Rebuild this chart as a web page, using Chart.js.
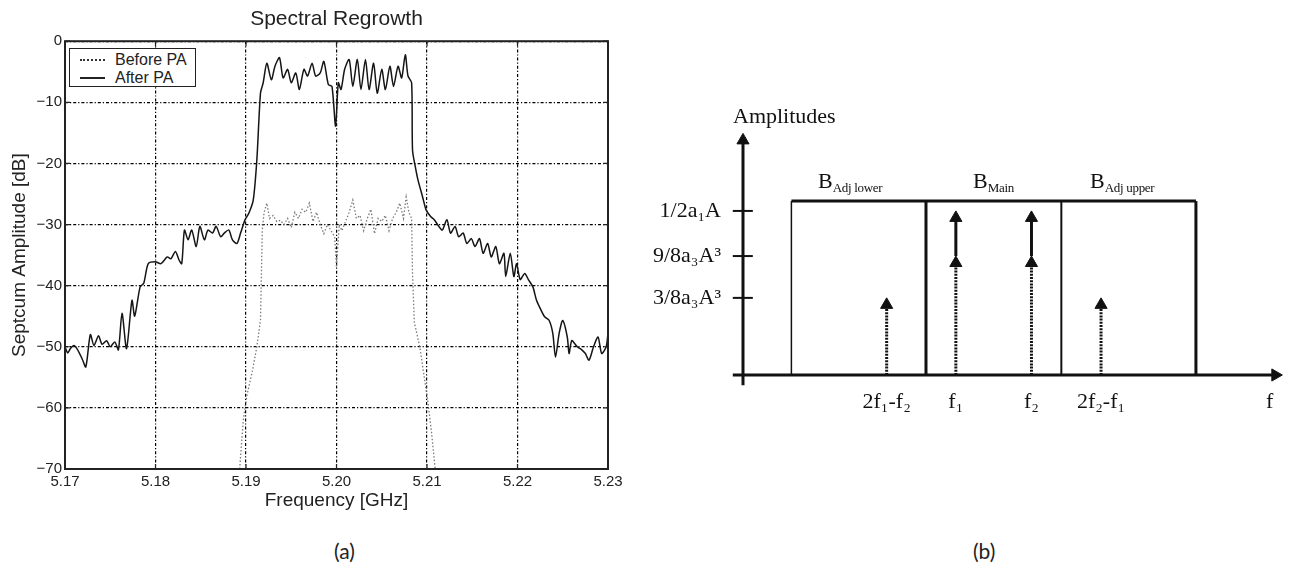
<!DOCTYPE html>
<html>
<head>
<meta charset="utf-8">
<script src="https://cdn.jsdelivr.net/npm/chart.js@4.4.0/dist/chart.umd.min.js"></script>
<style>
body { margin: 0; background: #fff; width: 1289px; height: 580px; position: relative; overflow: hidden; font-family: 'Liberation Sans', Arial, sans-serif; }
#wrap-a { position: absolute; left: 0; top: 0; width: 640px; height: 530px; }
#wrap-b { position: absolute; left: 640px; top: 80px; width: 649px; height: 360px; }
.legend { position: absolute; left: 69px; top: 48px; width: 127px; height: 39px; border: 1.5px solid #222; box-sizing: border-box; background: #fff; font-size: 16px; color: #222; }
.legend .row { position: absolute; left: 0; height: 19px; line-height: 19px; }
.legend .txt { position: absolute; left: 45px; white-space: nowrap; }
.legend .smp { position: absolute; left: 10px; width: 25px; top: 9px; }
.serif { position: absolute; font-family: 'Liberation Serif', 'Times New Roman', serif; font-size: 22px; color: #111; white-space: nowrap; line-height: 26px; }
.serif sub { font-size: 13px; vertical-align: -4px; letter-spacing: -0.3px; }
.cap { position: absolute; top: 538px; font-family: Lato, 'Open Sans', sans-serif; font-size: 21px; color: #222; }
</style>
</head>
<body>
<div id="wrap-a"><canvas id="spectrum"></canvas></div>
<div class="legend">
  <div class="row" style="top:1px"><span class="smp" style="border-top:2px dotted #333"></span><span class="txt">Before PA</span></div>
  <div class="row" style="top:19px"><span class="smp" style="border-top:2px solid #222"></span><span class="txt">After PA</span></div>
</div>
<div id="wrap-b"><canvas id="bands"></canvas></div>
<div class="serif" style="left:733px;top:103px">Amplitudes</div>
<div class="serif" style="left:818px;top:168px">B<sub>Adj lower</sub></div>
<div class="serif" style="left:973px;top:168px">B<sub>Main</sub></div>
<div class="serif" style="left:1090px;top:168px">B<sub>Adj upper</sub></div>
<div class="cap" style="left:334px">(a)</div>
<div class="cap" style="left:973px">(b)</div>
<script>
// ---------- (a) Spectral Regrowth ----------
const freqTicks = [5.17, 5.18, 5.19, 5.20, 5.21, 5.22, 5.23];

const afterFreq = [
  5.1700, 5.1703, 5.1706, 5.1710, 5.1714, 5.1719, 5.1723, 5.1728, 5.1732, 5.1737,
  5.1741, 5.1746, 5.1750, 5.1755, 5.1759, 5.1763, 5.1768, 5.1774, 5.1777, 5.1783,
  5.1787, 5.1792, 5.1800, 5.1806, 5.1813, 5.1817, 5.1822, 5.1826, 5.1829, 5.1832,
  5.1836, 5.1840, 5.1845, 5.1849, 5.1854, 5.1858, 5.1863, 5.1867, 5.1872, 5.1876,
  5.1881, 5.1885, 5.1890, 5.1894, 5.1899, 5.1903, 5.1908, 5.1912, 5.1916, 5.1919,
  5.1923, 5.1928, 5.1932, 5.1937, 5.1941, 5.1946, 5.1950, 5.1955, 5.1959, 5.1964,
  5.1968, 5.1973, 5.1977, 5.1982, 5.1986, 5.1991, 5.1995, 5.1999, 5.2002, 5.2005,
  5.2009, 5.2014, 5.2018, 5.2023, 5.2027, 5.2032, 5.2036, 5.2041, 5.2045, 5.2050,
  5.2054, 5.2059, 5.2063, 5.2068, 5.2072, 5.2076, 5.2079, 5.2083, 5.2084, 5.2087,
  5.2090, 5.2095, 5.2099, 5.2104, 5.2108, 5.2113, 5.2117, 5.2122, 5.2126, 5.2131,
  5.2135, 5.2140, 5.2144, 5.2149, 5.2153, 5.2158, 5.2162, 5.2167, 5.2171, 5.2176,
  5.2180, 5.2185, 5.2187, 5.2192, 5.2196, 5.2199, 5.2203, 5.2208, 5.2212, 5.2217,
  5.2221, 5.2226, 5.2230, 5.2235, 5.2239, 5.2242, 5.2246, 5.2250, 5.2255, 5.2257,
  5.2260, 5.2266, 5.2271, 5.2275, 5.2279, 5.2284, 5.2289, 5.2293, 5.2298, 5.2300
];
const afterDb = [
  -50.0, -51.0, -50.3, -49.8, -50.5, -52.0, -53.3, -48.0, -49.8, -48.2,
  -49.6, -49.0, -50.0, -49.2, -50.5, -44.5, -50.3, -42.4, -45.0, -40.2,
  -39.6, -36.4, -36.1, -36.4, -35.3, -35.6, -34.4, -35.8, -36.4, -30.9,
  -32.5, -30.9, -33.6, -30.3, -32.5, -30.9, -31.4, -30.3, -32.0, -31.4,
  -30.9, -32.5, -33.1, -31.4, -29.2, -28.2, -26.0, -19.4, -8.5, -6.8,
  -3.6, -6.3, -4.1, -2.7, -6.0, -4.6, -6.8, -5.2, -7.9, -4.6,
  -5.7, -3.6, -5.7, -5.2, -3.3, -7.1, -7.4, -13.9, -6.8, -7.9,
  -4.6, -3.0, -7.4, -3.0, -7.9, -3.0, -7.9, -3.6, -8.5, -4.6,
  -7.9, -4.1, -7.4, -4.1, -6.0, -2.2, -5.7, -6.8, -17.8, -20.5,
  -22.7, -25.4, -27.6, -28.7, -29.2, -30.3, -30.9, -29.2, -31.4, -30.3,
  -32.0, -31.4, -33.1, -32.3, -33.6, -32.3, -34.7, -33.1, -35.3, -33.6,
  -36.4, -34.7, -38.5, -34.7, -38.5, -36.4, -39.0, -38.0, -39.0, -40.2,
  -42.4, -44.0, -45.1, -45.7, -47.8, -51.7, -47.8, -45.7, -48.4, -51.1,
  -49.0, -50.0, -50.5, -51.1, -52.2, -50.0, -48.4, -51.1, -50.0, -47.8
];

const beforeFreq = [
  5.1893, 5.1897, 5.1901, 5.1907, 5.1912, 5.1916, 5.1918, 5.1920, 5.1923, 5.1926,
  5.1930, 5.1934, 5.1938, 5.1942, 5.1946, 5.1950, 5.1954, 5.1958, 5.1962, 5.1966,
  5.1970, 5.1974, 5.1978, 5.1982, 5.1986, 5.1990, 5.1994, 5.1998, 5.2000, 5.2003,
  5.2006, 5.2010, 5.2014, 5.2018, 5.2022, 5.2026, 5.2030, 5.2034, 5.2038, 5.2042,
  5.2046, 5.2050, 5.2054, 5.2058, 5.2062, 5.2066, 5.2070, 5.2074, 5.2077, 5.2080,
  5.2083, 5.2084, 5.2086, 5.2092, 5.2097, 5.2101, 5.2105, 5.2109
];
const beforeDb = [
  -70.0, -62.0, -58.0, -54.0, -50.0, -45.6, -31.0, -28.0, -26.5, -29.0,
  -28.5, -29.5, -29.3, -30.0, -29.0, -30.5, -28.0, -29.0, -27.5, -28.0,
  -26.5, -29.5, -28.0, -30.0, -31.5, -30.0, -31.0, -32.0, -37.0, -30.0,
  -31.0, -29.5, -28.0, -26.0, -29.0, -28.5, -31.0, -29.0, -27.5, -31.5,
  -29.0, -29.5, -28.5, -31.0, -29.0, -28.0, -26.5, -29.0, -25.5, -28.0,
  -29.0, -38.0, -46.0, -50.0, -55.0, -59.0, -64.0, -70.0
];

const toXY = (xs, ys) => xs.map((x, i) => ({ x: x, y: ys[i] }));

// box around the plot with small inward tick marks, matlab style
const frame = {
  id: 'frame',
  afterDatasetsDraw(chart) {
    const a = chart.chartArea, c = chart.ctx;
    const sx = chart.scales.x, sy = chart.scales.y;
    c.save();
    c.strokeStyle = '#222';
    c.lineWidth = 1.2;
    c.beginPath();
    sx.ticks.forEach(t => {
      const px = sx.getPixelForValue(t.value);
      c.moveTo(px, a.top); c.lineTo(px, a.top + 5);
      c.moveTo(px, a.bottom); c.lineTo(px, a.bottom - 5);
    });
    sy.ticks.forEach(t => {
      const py = sy.getPixelForValue(t.value);
      c.moveTo(a.left, py); c.lineTo(a.left + 5, py);
      c.moveTo(a.right, py); c.lineTo(a.right - 5, py);
    });
    c.stroke();
    c.lineWidth = 2;
    c.strokeRect(a.left, a.top, a.right - a.left, a.bottom - a.top);
    c.restore();
  }
};

const sans = "'Liberation Sans', Arial, sans-serif";

new Chart(document.getElementById('spectrum'), {
  type: 'line',
  data: {
    datasets: [
      {
        label: 'Before PA',
        data: toXY(beforeFreq, beforeDb),
        borderColor: '#7a7a7a',
        borderWidth: 1.3,
        borderDash: [1.5, 2],
        pointRadius: 0,
        tension: 0
      },
      {
        label: 'After PA',
        data: toXY(afterFreq, afterDb),
        borderColor: '#151515',
        borderWidth: 1.5,
        pointRadius: 0,
        tension: 0.25
      }
    ]
  },
  options: {
    responsive: true,
    maintainAspectRatio: false,
    animation: false,
    layout: { padding: { right: 32 } },
    plugins: {
      legend: { display: false },
      tooltip: { enabled: false },
      title: {
        display: true,
        fullSize: false,
        text: 'Spectral Regrowth',
        color: '#222',
        font: { family: sans, size: 21, weight: 'normal' },
        padding: { top: 7, bottom: 9 }
      }
    },
    scales: {
      x: {
        type: 'linear',
        min: 5.17,
        max: 5.23,
        afterBuildTicks: s => { s.ticks = freqTicks.map(v => ({ value: v })); },
        afterFit: s => { s.height = 61; },
        ticks: {
          color: '#222',
          font: { family: sans, size: 15 },
          padding: 4,
          maxRotation: 0,
          callback: v => v.toFixed(2)
        },
        grid: { color: '#000', lineWidth: 1.2, drawTicks: false },
        border: { display: false, dash: [3, 2, 1.2, 2] },
        title: {
          display: true,
          text: 'Frequency [GHz]',
          color: '#222',
          font: { family: sans, size: 19 },
          padding: { top: 0, bottom: 18 }
        }
      },
      y: {
        min: -70,
        max: 0,
        afterFit: s => { s.width = 65; },
        ticks: {
          stepSize: 10,
          color: '#222',
          font: { family: sans, size: 15 },
          padding: 3,
          callback: v => String(v).replace('-', '\u2212')
        },
        grid: { color: '#000', lineWidth: 1.2, drawTicks: false },
        border: { display: false, dash: [3, 2, 1.2, 2] },
        title: {
          display: true,
          text: 'Septcum Amplitude [dB]',
          color: '#222',
          font: { family: sans, size: 19 },
          padding: { top: 8, bottom: 0 }
        }
      }
    }
  },
  plugins: [frame]
});

// ---------- (b) band diagram ----------
const levelValues = [4.0, 2.9, 1.88];
const levelLabels = ['1/2a\u2081A', '9/8a\u2083A\u00b3', '3/8a\u2083A\u00b3'];
const toneX = [-1, 1];
const imX = [-2.83, 2.84];
const freqMarkX = [-2.83, -1, 1, 2.84, 7.3];
const freqMarkLabels = ['2f\u2081-f\u2082', 'f\u2081', 'f\u2082', '2f\u2082-f\u2081', 'f'];
const bandEdges = [-5.35, -1.79, 1.79, 5.35];
const bandEdgeWidths = [1.5, 3, 2, 3];
const boxTop = 4.24;
const toneTop = levelValues[0];
const toneMid = levelValues[1];
const imTop = levelValues[2];
const axisX = -6.63;
const headOff = 0.17;

const ink = '#111';
const seg = (pts, width, dash) => ({
  data: pts,
  showLine: true,
  borderColor: ink,
  borderWidth: width,
  borderDash: dash || [],
  pointRadius: 0,
  clip: false
});

const bSets = [];
// axes
bSets.push(seg([{ x: axisX, y: -0.25 }, { x: axisX, y: 5.72 }], 3));
bSets.push(seg([{ x: -6.9, y: 0 }, { x: 7.45, y: 0 }], 3));
// level ticks
levelValues.forEach(v => bSets.push(seg([{ x: -6.9, y: v }, { x: -6.37, y: v }], 2)));
// band boxes
bSets.push(seg([{ x: bandEdges[0], y: boxTop }, { x: bandEdges[3], y: boxTop }], 3));
bandEdges.forEach((e, i) => bSets.push(seg([{ x: e, y: 0 }, { x: e, y: boxTop }], bandEdgeWidths[i])));
// intermod arrows (dotted)
imX.forEach(x => bSets.push(seg([{ x: x, y: 0 }, { x: x, y: imTop - headOff }], 3, [2, 1.2])));
// tone arrows: dotted lower part, solid upper part
toneX.forEach(x => {
  bSets.push(seg([{ x: x, y: 0 }, { x: x, y: toneMid - headOff }], 3, [2, 1.2]));
  bSets.push(seg([{ x: x, y: toneMid }, { x: x, y: toneTop - headOff }], 3));
});
// arrow heads
const heads = [
  ...imX.map(x => ({ x: x, y: imTop - headOff })),
  ...toneX.map(x => ({ x: x, y: toneMid - headOff })),
  ...toneX.map(x => ({ x: x, y: toneTop - headOff })),
  { x: axisX, y: 5.72 }
];
bSets.push({
  data: heads,
  showLine: false,
  pointStyle: 'triangle',
  pointRadius: 7,
  pointRotation: 0,
  backgroundColor: ink,
  borderColor: ink,
  borderWidth: 1,
  clip: false
});
bSets.push({
  data: [{ x: 7.45, y: 0 }],
  showLine: false,
  pointStyle: 'triangle',
  pointRadius: 7,
  pointRotation: 90,
  backgroundColor: ink,
  borderColor: ink,
  borderWidth: 1,
  clip: false
});

const serif = "'Liberation Serif', 'Times New Roman', serif";

new Chart(document.getElementById('bands'), {
  type: 'scatter',
  data: { datasets: bSets },
  options: {
    responsive: true,
    maintainAspectRatio: false,
    animation: false,
    layout: { padding: { top: 53, right: 5 } },
    plugins: { legend: { display: false }, tooltip: { enabled: false } },
    scales: {
      x: {
        type: 'linear',
        min: axisX,
        max: 7.6,
        afterBuildTicks: s => { s.ticks = freqMarkX.map(v => ({ value: v })); },
        afterFit: s => { s.height = 65; },
        ticks: {
          color: ink,
          font: { family: serif, size: 22 },
          padding: 6,
          maxRotation: 0,
          autoSkip: false,
          callback: (v, i) => freqMarkLabels[i]
        },
        grid: { display: false },
        border: { display: false }
      },
      y: {
        min: 0,
        max: 5.9,
        afterBuildTicks: s => { s.ticks = levelValues.map(v => ({ value: v })); },
        afterFit: s => { s.width = 103; },
        ticks: {
          color: ink,
          font: { family: serif, size: 22 },
          padding: 14,
          autoSkip: false,
          callback: (v, i) => levelLabels[i]
        },
        grid: { display: false },
        border: { display: false }
      }
    }
  }
});
</script>
</body>
</html>
